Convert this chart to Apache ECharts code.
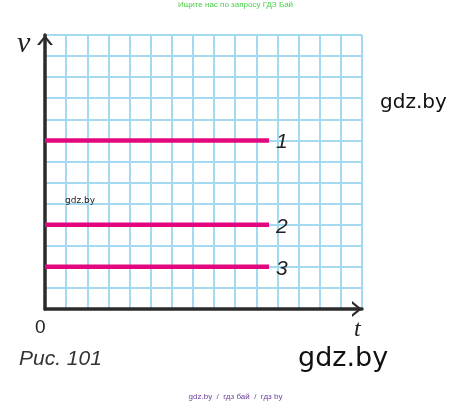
<!DOCTYPE html>
<html>
<head>
<meta charset="utf-8">
<script src="https://cdn.jsdelivr.net/npm/echarts@6/dist/echarts.min.js"></script>
<style>
  html, body { margin: 0; padding: 0; background: #fff; }
  #chart { width: 471px; height: 406px; }
</style>
</head>
<body>
<div id="chart"></div>
<script>
// grid size in cells
const tCells = 15;
const vCells = 13;
// three uniform motions: speed value and end time
const lineNames = ["1", "2", "3"];
const lineSpeeds = [8, 4, 2];
const lineEndT = 10.6;

const chart = echarts.init(document.getElementById("chart"));

const gridColor = "#a3daef";
const axisColor = "#2b2b2b";
// open chevron arrow head
const arrowPath = "path://M0,10 L8,0 L16,10 L13.2,10 L8,3.4 L2.8,10 Z";

const series = lineNames.map((name, i) => ({
  name: name,
  type: "line",
  symbol: "none",
  data: [[0, lineSpeeds[i]], [lineEndT, lineSpeeds[i]]],
  lineStyle: { color: "#e2077f", width: 4.5 },
  endLabel: {
    show: true,
    formatter: "{a}",
    distance: 7,
    offset: [0, 2],
    fontFamily: "Liberation Sans",
    fontStyle: "italic",
    fontSize: 21,
    color: "#222"
  },
  z: 5
}));

chart.setOption({
  animation: false,
  grid: { left: 45, top: 35, width: 317, height: 274, containLabel: false },
  xAxis: {
    type: "value",
    min: 0,
    max: tCells,
    interval: 1,
    axisLine: {
      show: true,
      lineStyle: { color: axisColor, width: 3.5 },
      symbol: ["none", arrowPath],
      symbolSize: [17, 10],
      symbolOffset: [0, -5]
    },
    axisTick: { show: false },
    axisLabel: { show: false },
    splitLine: { show: true, lineStyle: { color: gridColor, width: 2 } }
  },
  yAxis: {
    type: "value",
    min: 0,
    max: vCells,
    interval: 1,
    axisLine: {
      show: true,
      lineStyle: { color: axisColor, width: 3.5 },
      symbol: ["none", arrowPath],
      symbolSize: [17, 10],
      symbolOffset: [0, -5]
    },
    axisTick: { show: false },
    axisLabel: { show: false },
    splitLine: { show: true, lineStyle: { color: gridColor, width: 2 } }
  },
  series: series,
  graphic: [
    { type: "text", left: "center", top: 1, z: 100,
      style: { text: "Ищите нас по запросу ГДЗ Бай", fill: "#4ccf4c", font: "8px 'Liberation Sans'" } },
    { type: "text", x: 17, y: 29, z: 100,
      style: { text: "v", fill: "#222", font: "italic 30px 'Liberation Serif'" } },
    { type: "text", x: 354, y: 318, z: 100,
      style: { text: "t", fill: "#222", font: "italic 24px 'Liberation Serif'" } },
    { type: "text", x: 35, y: 318, z: 100,
      style: { text: "0", fill: "#222", font: "19px 'Liberation Sans'" } },
    { type: "text", x: 19, y: 349, z: 100,
      style: { text: "Рис. 101", fill: "#333", font: "italic 21px 'Liberation Sans'" } },
    { type: "text", x: 298, y: 345, z: 100,
      style: { text: "gdz.by", fill: "#111", font: "27px 'DejaVu Sans'" } },
    { type: "text", x: 380, y: 93, z: 100,
      style: { text: "gdz.by", fill: "#111", font: "20px 'DejaVu Sans'" } },
    { type: "text", x: 65, y: 196, z: 100,
      style: { text: "gdz.by", fill: "#222", font: "9px 'DejaVu Sans'" } },
    { type: "text", left: "center", top: 393, z: 100,
      style: { text: "gdz.by  /  гдз бай  /  гдз by", fill: "#6b3f9e", font: "8px 'Liberation Sans'" } }
  ]
});
</script>
</body>
</html>
